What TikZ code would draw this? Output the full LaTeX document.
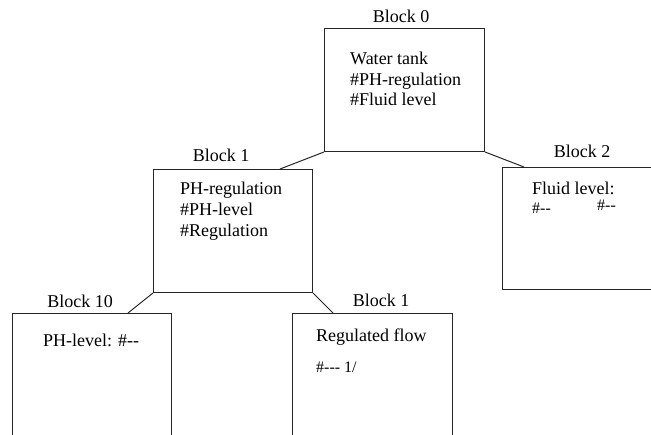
\documentclass[tikz,border=0pt]{standalone}
\usepackage{fontspec}
\setmainfont{Liberation Serif}
\tikzset{
  blockbox/.style={draw=black!85, line width=1pt, anchor=north west, inner sep=0pt},
  blocktitle/.style={anchor=base, inner sep=0pt, font=\fontsize{18}{20}\selectfont},
  blocktext/.style={anchor=base west, inner sep=0pt, font=\fontsize{18}{20}\selectfont},
  link/.style={draw=black!85, line width=1pt}
}
\begin{document}
\begin{tikzpicture}[x=1pt,y=-1pt]
	\useasboundingbox (0,0) rectangle (651,435);
	\clip (0,0) rectangle (651,435);
	% blocks
	\node[blockbox, minimum width=160pt, minimum height=123pt] (b0) at (324,28) {};
	\node[blockbox, minimum width=159pt, minimum height=123pt] (b1) at (153,169) {};
	\node[blockbox, minimum width=160pt, minimum height=122pt] (b2) at (502,167) {};
	\node[blockbox, minimum width=159pt, minimum height=140pt] (b10) at (12,313) {};
	\node[blockbox, minimum width=160pt, minimum height=140pt] (b11) at (292,313) {};
	% titles
	\node[blocktitle] (b0t) at (401,23) {Block 0};
	\node[blocktitle] (b1t) at (221,162) {Block 1};
	\node[blocktitle] (b2t) at (582,158) {Block 2};
	\node[blocktitle] (b10t) at (80,308) {Block 10};
	\node[blocktitle] (b11t) at (381,307) {Block 1};
	% contents
	\node[blocktext] (w1) at (350,65) {Water tank};
	\node[blocktext] (w2) at (350,86) {\#PH-regulation};
	\node[blocktext] (w3) at (350,106) {\#Fluid level};
	\node[blocktext] (p1) at (180,195) {PH-regulation};
	\node[blocktext] (p2) at (180,216) {\#PH-level};
	\node[blocktext] (p3) at (180,237) {\#Regulation};
	\node[blocktext] (f1) at (532,195) {Fluid level:};
	\node[blocktext, font=\fontsize{16}{18}\selectfont] (f2) at (532,214) {\#-{}-};
	\node[blocktext, font=\fontsize{16}{18}\selectfont] (f3) at (597,211) {\#-{}-};
	\node[blocktext] (l1) at (43,347) {PH-level: \#-{}-};
	\node[blocktext] (r1) at (316,342) {Regulated flow};
	\node[blocktext, font=\fontsize{16}{18}\selectfont] (r2) at (316,373) {\#-{}-{}- 1/};
	% links
	\draw[link] (b0.south west) -- ([xshift=-33pt]b1.north east);
	\draw[link] (b0.south east) -- ([xshift=22pt]b2.north west);
	\draw[link] (b1.south west) -- ([xshift=-44pt]b10.north east);
	\draw[link] (b1.south east) -- ([xshift=41pt]b11.north west);
\end{tikzpicture}
\end{document}
